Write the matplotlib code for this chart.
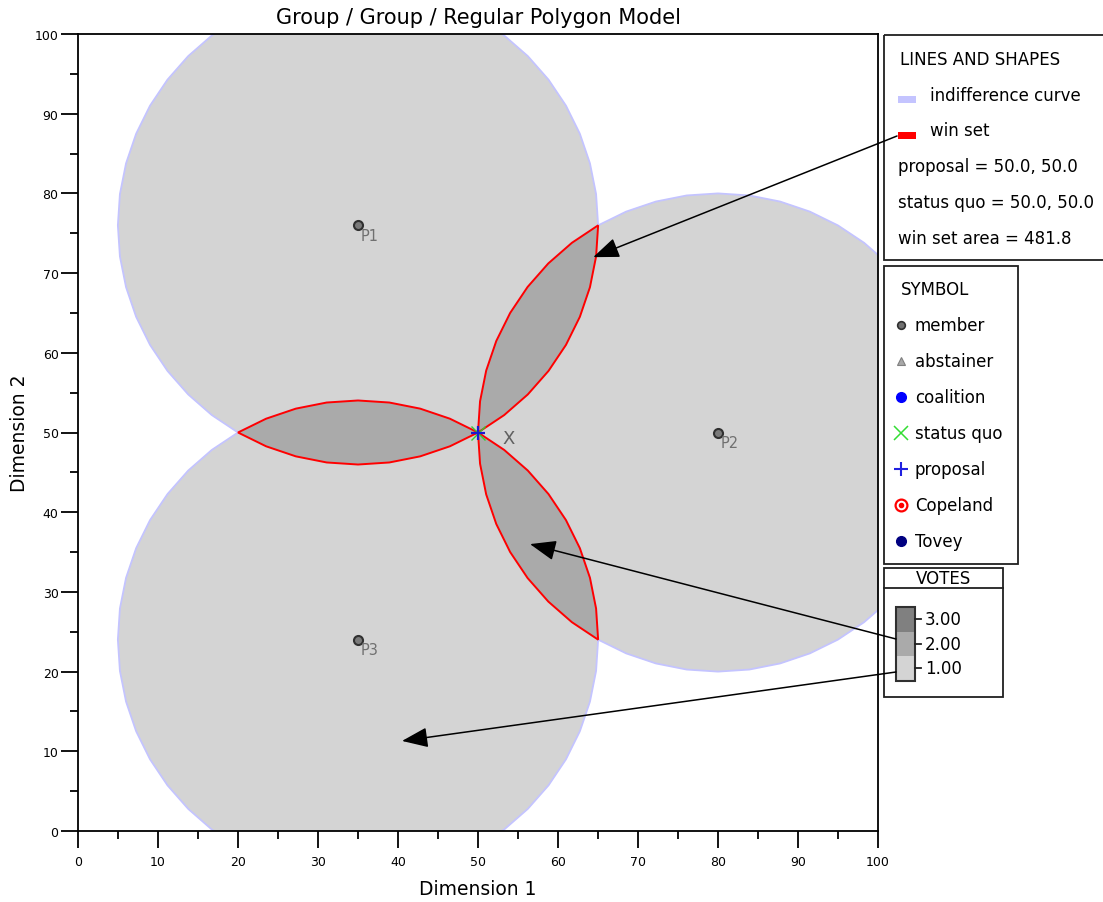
import numpy as np
import matplotlib.pyplot as plt
from matplotlib.patches import Polygon, Rectangle

plt.rcParams['font.family'] = ['DejaVu Sans']

# ideal points of the group members
names = ['P1', 'P2', 'P3']
px = [35.0, 80.0, 35.0]
py = [76.0, 50.0, 24.0]
status_quo = [50.0, 50.0]
proposal = [50.0, 50.0]
n_sides = 48

vote_levels = ['1.00', '2.00', '3.00']
vote_colors = ['#d4d4d4', '#aaaaaa', '#808080']

title = 'Group / Group / Regular Polygon Model'
info_lines = ['proposal = 50.0, 50.0', 'status quo = 50.0, 50.0', 'win set area = 481.8']
symbol_names = ['member', 'abstainer', 'coalition', 'status quo', 'proposal', 'Copeland', 'Tovey']

# where the arrows point (data units)
arrow_tips = [(64.4, 72.0), (56.5, 36.0), (40.5, 11.3)]

W, H = 1103, 903

# regular polygon indifference curves through the status quo
half = np.pi / n_sides
ang = np.deg2rad(np.arange(n_sides) * 360.0 / n_sides) + half
normals = np.column_stack([np.cos(ang), np.sin(ang)])
sq = np.array(status_quo)
centers = [np.array([x, y]) for x, y in zip(px, py)]
apothems = [np.max(normals @ (sq - c)) for c in centers]
polys = []
for c, a in zip(centers, apothems):
    va = ang + half
    r = a / np.cos(half)
    polys.append(np.column_stack([c[0] + r * np.cos(va), c[1] + r * np.sin(va)]))


def clip(poly, c, a):
    out = list(poly)
    for u in normals:
        new = []
        m = len(out)
        for j in range(m):
            p, q = out[j], out[(j + 1) % m]
            fp = np.dot(p - c, u) - a
            fq = np.dot(q - c, u) - a
            if fp <= 0:
                new.append(p)
            if fp * fq < 0:
                t = fp / (fp - fq)
                new.append(p + t * (q - p))
        out = new
        if not out:
            break
    return np.array(out)


petals = []
for i in range(len(polys)):
    for j in range(i + 1, len(polys)):
        pet = clip(polys[i], centers[j], apothems[j])
        if len(pet) > 2:
            petals.append(pet)

fig = plt.figure(figsize=(W / 100, H / 100), dpi=100)
ax = fig.add_axes([78 / W, 1 - 832 / H, 800 / W, 797 / H])

for pg in polys:
    ax.add_patch(Polygon(pg, closed=True, facecolor=vote_colors[0], edgecolor='#c4c4ff',
                         linewidth=1.3, zorder=1))
for pet in petals:
    ax.add_patch(Polygon(pet, closed=True, facecolor=vote_colors[1], edgecolor='red',
                         linewidth=1.4, zorder=2))

for nm, x, y in zip(names, px, py):
    ax.plot(x, y, 'o', ms=6.5, mfc='#7a7a7a', mec='#303030', mew=1.5, zorder=4)
    ax.annotate(nm, (x, y), xytext=(2, -7), textcoords='offset points', fontsize=10.5,
                color='#707070', ha='left', va='center', zorder=4)

ax.plot(*status_quo, 'x', ms=10, color='#33cc33', mew=1, zorder=5)
ax.plot(*proposal, '+', ms=9.5, color='#1a1ad0', mew=1.6, zorder=6)
ax.annotate('X', status_quo, xytext=(22, -4), textcoords='offset points', fontsize=13,
            color='#606060', ha='center', va='center', zorder=5)

ax.set_xlim(0, 100)
ax.set_ylim(0, 100)
ax.set_xticks(range(0, 101, 10))
ax.set_yticks(range(0, 101, 10))
ax.set_xticks(range(5, 100, 10), minor=True)
ax.set_yticks(range(5, 100, 10), minor=True)
ax.tick_params(which='major', direction='out', length=12.5, width=1.3, labelsize=9)
ax.tick_params(which='minor', direction='out', length=6, width=1.3)
ax.tick_params(axis='x', pad=4.5)
ax.tick_params(axis='y', pad=1.5)
for s in ax.spines.values():
    s.set_linewidth(1.3)

# overlay in pixel coordinates for titles, legends and arrows
ov = fig.add_axes([0, 0, 1, 1], zorder=5)
ov.set_xlim(0, W)
ov.set_ylim(H, 0)
ov.axis('off')

ov.text(478, 18, title, fontsize=15, ha='center', va='center')
ov.text(478, 890, 'Dimension 1', fontsize=13.5, ha='center', va='center')
ov.text(20, 433, 'Dimension 2', fontsize=13.5, ha='center', va='center', rotation=90)

# LINES AND SHAPES box
ov.add_patch(Rectangle((884, 36), 240, 225, fill=False, lw=1.3, ec='#202020'))
ov.text(900, 60, 'LINES AND SHAPES', fontsize=12, va='center')
ov.add_patch(Rectangle((898, 97), 18, 7, color='#c4c4ff', lw=0))
ov.text(930, 96, 'indifference curve', fontsize=12, va='center')
ov.add_patch(Rectangle((898, 133), 18, 7, color='red', lw=0))
ov.text(930, 131, 'win set', fontsize=12, va='center')
for k, line in enumerate(info_lines):
    ov.text(898, 167 + 36 * k, line, fontsize=12, va='center')

# SYMBOL box
ov.add_patch(Rectangle((884, 267), 134, 298, fill=False, lw=1.3, ec='#202020'))
ov.text(901, 290, 'SYMBOL', fontsize=12, va='center')
sym_y = [326 + 36 * k for k in range(len(symbol_names))]
ov.plot(901, sym_y[0], 'o', ms=5.5, mfc='#707070', mec='#303030', mew=1.2)
ov.plot(901, sym_y[1], '^', ms=6, mfc='#a8a8a8', mec='#808080', mew=0.8)
ov.plot(901, sym_y[2], 'o', ms=7, color='#0000ff')
ov.plot(901, sym_y[3], 'x', ms=10, color='#33dd33', mew=1.1)
ov.plot(901, sym_y[4], '+', ms=10, color='#2020e0', mew=1.5)
ov.plot(901, sym_y[5], 'o', ms=8.5, mfc='white', mec='red', mew=1.6)
ov.plot(901, sym_y[5], 'o', ms=3, color='red')
ov.plot(901, sym_y[6], 'o', ms=7, color='#000080')
for nm, y in zip(symbol_names, sym_y):
    ov.text(915, y, nm, fontsize=12, va='center')

# VOTES box
ov.add_patch(Rectangle((884, 569), 119, 129, fill=False, lw=1.3, ec='#202020'))
ov.plot([884, 1003], [589, 589], color='#202020', lw=1.3)
ov.text(943, 579, 'VOTES', fontsize=12, ha='center', va='center')
seg = 24.5
top = 608
for k, (lab, col) in enumerate(zip(vote_levels[::-1], vote_colors[::-1])):
    y0 = top + seg * k
    ov.add_patch(Rectangle((896, y0), 19, seg, color=col, lw=0))
    ov.plot([915, 921], [y0 + seg / 2] * 2, color='#202020', lw=1.3)
    ov.text(925, y0 + seg / 2, lab, fontsize=12, va='center')
ov.add_patch(Rectangle((896, top), 19, seg * 3, fill=False, lw=1.5, ec='#303030'))

# arrows from the legend into the plot
starts = [(897, 137), (896, 640), (896, 673)]
for (sx, sy), tip in zip(starts, arrow_tips):
    ov.annotate('', xy=tip, xycoords=ax.transData, xytext=(sx, sy), textcoords='data',
                arrowprops=dict(arrowstyle='-|>,head_length=1.6,head_width=0.62',
                                mutation_scale=10, color='black', lw=1.1,
                                shrinkA=0, shrinkB=0))

fig.savefig('out.png', dpi=100)
